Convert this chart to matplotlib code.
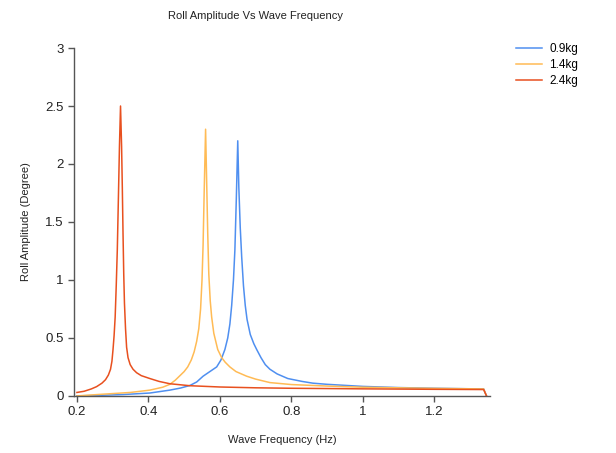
import matplotlib.pyplot as plt

# Roll amplitude (degree), per payload mass
freq_09 = [0.20, 0.264, 0.33, 0.404, 0.46, 0.49, 0.516, 0.535, 0.553, 0.572, 0.591, 0.603,
           0.614, 0.622, 0.628, 0.633, 0.638, 0.642, 0.646, 0.650, 0.653, 0.657, 0.661,
           0.666, 0.671, 0.676, 0.685, 0.695, 0.703, 0.715, 0.727, 0.74, 0.76, 0.79,
           0.83, 0.86, 0.90, 1.00, 1.10, 1.20, 1.338, 1.346]
amp_09 = [0.0, 0.005, 0.012, 0.025, 0.05, 0.068, 0.09, 0.12, 0.17, 0.21, 0.25, 0.31,
          0.40, 0.50, 0.62, 0.78, 1.00, 1.26, 1.70, 2.20, 1.80, 1.45, 1.20,
          0.95, 0.78, 0.66, 0.53, 0.45, 0.40, 0.33, 0.27, 0.23, 0.19, 0.15,
          0.125, 0.11, 0.10, 0.082, 0.072, 0.066, 0.06, 0.0]

freq_14 = [0.20, 0.273, 0.35, 0.404, 0.44, 0.46, 0.475, 0.49, 0.50, 0.51, 0.52, 0.528,
           0.535, 0.541, 0.546, 0.550, 0.553, 0.556, 0.560, 0.563, 0.566, 0.569, 0.573,
           0.577, 0.583, 0.594, 0.605, 0.615, 0.628, 0.645, 0.675, 0.70, 0.74, 0.80,
           0.90, 1.00, 1.10, 1.20, 1.338, 1.346]
amp_14 = [0.0, 0.015, 0.03, 0.05, 0.075, 0.10, 0.135, 0.18, 0.21, 0.25, 0.31, 0.38,
          0.47, 0.58, 0.75, 1.00, 1.30, 1.75, 2.30, 1.85, 1.40, 1.05, 0.82,
          0.68, 0.54, 0.40, 0.33, 0.29, 0.25, 0.21, 0.17, 0.145, 0.115, 0.098,
          0.085, 0.075, 0.07, 0.065, 0.06, 0.0]

freq_24 = [0.20, 0.22, 0.24, 0.255, 0.27, 0.28, 0.288, 0.294, 0.298, 0.301, 0.304, 0.307,
           0.310, 0.313, 0.316, 0.319, 0.322, 0.325, 0.327, 0.329, 0.331, 0.333, 0.336,
           0.339, 0.343, 0.349, 0.357, 0.367, 0.38, 0.404, 0.43, 0.46, 0.516, 0.60,
           0.70, 0.80, 1.00, 1.20, 1.338, 1.346]
amp_24 = [0.03, 0.04, 0.06, 0.08, 0.11, 0.14, 0.18, 0.23, 0.30, 0.40, 0.52, 0.68,
          0.95, 1.26, 1.70, 2.15, 2.50, 2.15, 1.80, 1.40, 1.05, 0.80, 0.58,
          0.42, 0.33, 0.27, 0.23, 0.20, 0.175, 0.15, 0.125, 0.105, 0.088, 0.077,
          0.07, 0.066, 0.061, 0.057, 0.055, 0.0]

labels = ['0.9kg', '1.4kg', '2.4kg']
colors = ['#4f8ff0', '#ffbb55', '#e8501f']

plt.rcParams['font.family'] = ['Liberation Sans', 'DejaVu Sans']

fig = plt.figure(figsize=(6.16, 4.53), dpi=100)
ax = fig.add_axes([0.120, 0.126, 0.675, 0.768])

series = [(freq_09, amp_09), (freq_14, amp_14), (freq_24, amp_24)]
for (xs, ys), lab, col in zip(series, labels, colors):
    ax.plot(xs, ys, color=col, lw=1.1, label=lab)

ax.set_xlim(0.1916, 1.355)
ax.set_ylim(0, 3)
ax.set_xticks([0.2, 0.4, 0.6, 0.8, 1.0, 1.2])
ax.set_xticklabels(['0.2', '0.4', '0.6', '0.8', '1', '1.2'])
ax.set_yticks([0, 0.5, 1, 1.5, 2, 2.5, 3])
ax.set_yticklabels(['0', '0.5', '1', '1.5', '2', '2.5', '3'])

for s in ['top', 'right']:
    ax.spines[s].set_visible(False)
for s in ['left', 'bottom']:
    ax.spines[s].set_color('#555555')
    ax.spines[s].set_linewidth(1.0)
ax.tick_params(colors='#555555', labelcolor='#222222', labelsize=9.5, length=4, width=1.0)

ax.set_xlabel('Wave Frequency (Hz)', fontsize=8, color='#222222', labelpad=12)
ax.set_ylabel('Roll Amplitude (Degree)', fontsize=8, color='#222222', labelpad=10)
fig.text(0.415, 0.965, 'Roll Amplitude Vs Wave Frequency', ha='center', va='center',
         fontsize=8, color='#222222')

fig.legend(loc='upper left', bbox_to_anchor=(0.83, 0.915), frameon=False,
           fontsize=8.5, handlelength=2.2, handletextpad=0.6, labelspacing=0.35,
           borderaxespad=0)

fig.savefig('out.png', dpi=100)
